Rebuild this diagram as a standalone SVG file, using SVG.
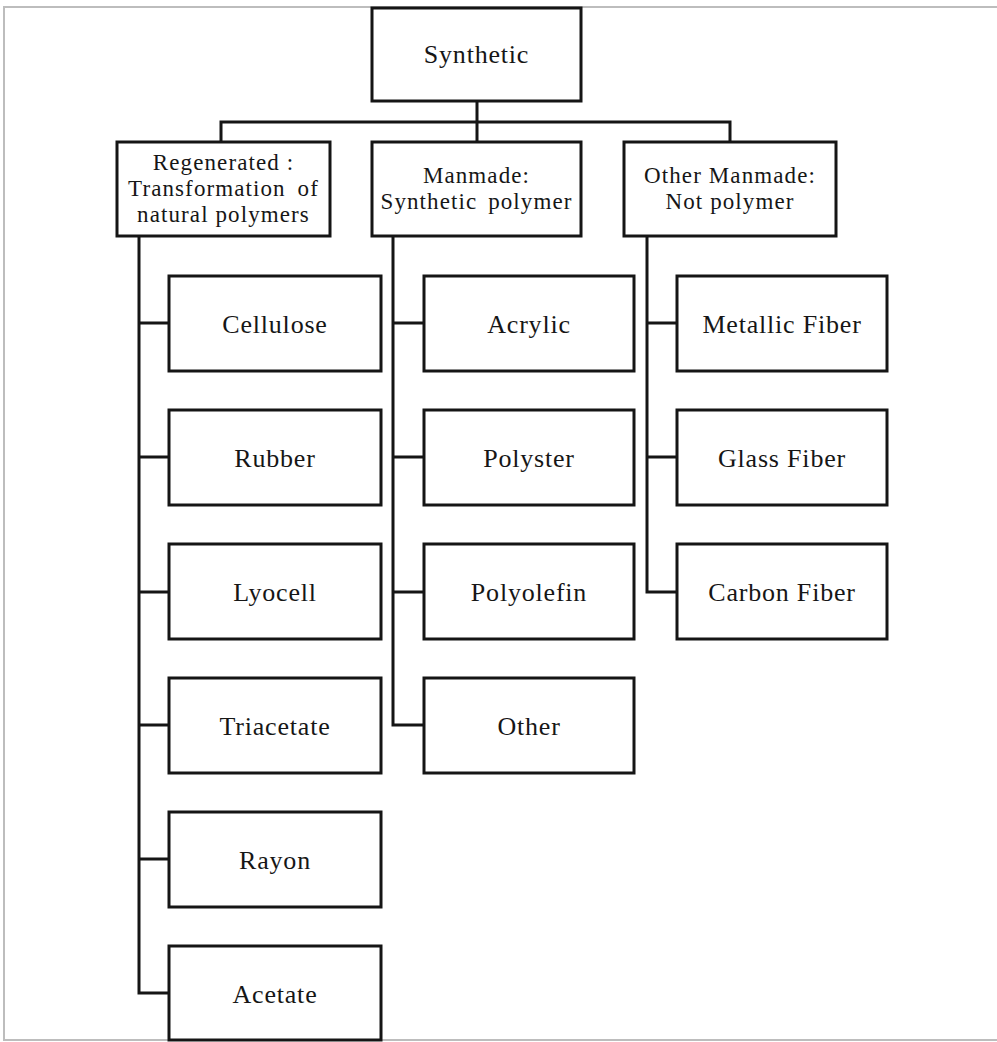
<svg xmlns="http://www.w3.org/2000/svg" width="997" height="1042" viewBox="0 0 997 1042">
<style>
.box{fill:#fff;stroke:#151515;stroke-width:3}
.ln{fill:none;stroke:#151515;stroke-width:3}
.t{font-family:"Liberation Serif","Times New Roman",serif;font-size:26px;fill:#161616;text-anchor:middle;letter-spacing:0.8px}
.c{font-size:23px;letter-spacing:1.1px}
.frame{fill:none;stroke:#bdbdbd;stroke-width:2}
</style>
<rect width="997" height="1042" fill="#fff"/>
<polyline class="frame" points="997,7 4,7 4,1040 997,1040"/>
<g id="connectors">
<path class="ln" d="M477,101V122M221,142V122H730V142M477,122V142"/>
<path class="ln" d="M139,236V993H169M139,323H169M139,457H169M139,592H169M139,725H169M139,859H169"/>
<path class="ln" d="M393,236V725H424M393,323H424M393,457H424M393,592H424"/>
<path class="ln" d="M647,236V592H677M647,323H677M647,457H677"/>
</g>
<g id="synthetic"><rect class="box" x="372" y="8" width="209" height="93"/><text class="t" x="476.5" y="63">Synthetic</text></g>
<g id="regenerated"><rect class="box" x="117" y="142" width="213" height="94"/><text class="t c" x="223.5" y="170">Regenerated :</text><text class="t c" x="223.5" y="196" word-spacing="5">Transformation of</text><text class="t c" x="223.5" y="222">natural polymers</text></g>
<g id="manmade"><rect class="box" x="372" y="142" width="209" height="94"/><text class="t c" x="476.5" y="183">Manmade:</text><text class="t c" x="476.5" y="209" word-spacing="4">Synthetic polymer</text></g>
<g id="other-manmade"><rect class="box" x="624" y="142" width="212" height="94"/><text class="t c" x="730" y="183">Other Manmade:</text><text class="t c" x="730" y="209">Not polymer</text></g>
<g id="cellulose"><rect class="box" x="169" y="276" width="212" height="95"/><text class="t" x="275" y="333">Cellulose</text></g>
<g id="rubber"><rect class="box" x="169" y="410" width="212" height="95"/><text class="t" x="275" y="467">Rubber</text></g>
<g id="lyocell"><rect class="box" x="169" y="544" width="212" height="95"/><text class="t" x="275" y="601">Lyocell</text></g>
<g id="triacetate"><rect class="box" x="169" y="678" width="212" height="95"/><text class="t" x="275" y="735">Triacetate</text></g>
<g id="rayon"><rect class="box" x="169" y="812" width="212" height="95"/><text class="t" x="275" y="869">Rayon</text></g>
<g id="acetate"><rect class="box" x="169" y="946" width="212" height="94"/><text class="t" x="275" y="1003">Acetate</text></g>
<g id="acrylic"><rect class="box" x="424" y="276" width="210" height="95"/><text class="t" x="529" y="333">Acrylic</text></g>
<g id="polyster"><rect class="box" x="424" y="410" width="210" height="95"/><text class="t" x="529" y="467">Polyster</text></g>
<g id="polyolefin"><rect class="box" x="424" y="544" width="210" height="95"/><text class="t" x="529" y="601">Polyolefin</text></g>
<g id="other"><rect class="box" x="424" y="678" width="210" height="95"/><text class="t" x="529" y="735">Other</text></g>
<g id="metallic-fiber"><rect class="box" x="677" y="276" width="210" height="95"/><text class="t" x="782" y="333">Metallic Fiber</text></g>
<g id="glass-fiber"><rect class="box" x="677" y="410" width="210" height="95"/><text class="t" x="782" y="467">Glass Fiber</text></g>
<g id="carbon-fiber"><rect class="box" x="677" y="544" width="210" height="95"/><text class="t" x="782" y="601">Carbon Fiber</text></g>
</svg>
